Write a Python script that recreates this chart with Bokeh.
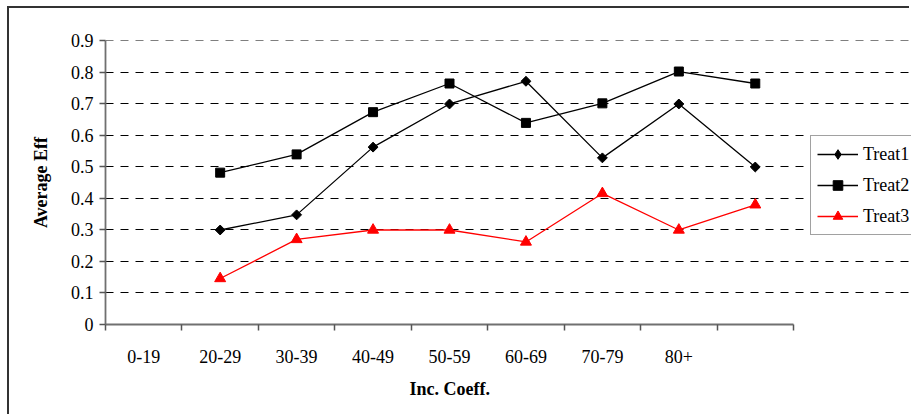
import numpy as np
from bokeh.plotting import figure
from bokeh.models import (Range1d, FixedTicker, Legend, LegendItem, Title)
from bokeh.embed import file_html
from bokeh.resources import INLINE

# Income-coefficient groups (the ninth slot carries no label)
categories = ["0-19", "20-29", "30-39", "40-49", "50-59", "60-69", "70-79", "80+", ""]

# Average efficiency per group; no value for the first group
treat1 = [np.nan, 0.30, 0.348, 0.563, 0.70, 0.772, 0.529, 0.70, 0.50]
treat2 = [np.nan, 0.482, 0.54, 0.674, 0.765, 0.64, 0.702, 0.803, 0.765]
treat3 = [np.nan, 0.146, 0.27, 0.30, 0.30, 0.262, 0.416, 0.30, 0.38]

y_ticks = [0.0, 0.1, 0.2, 0.3, 0.4, 0.5, 0.6, 0.7, 0.8, 0.9]
y_labels = ["0", "0.1", "0.2", "0.3", "0.4", "0.5", "0.6", "0.7", "0.8", "0.9"]

FONT = "Liberation Serif"
AXIS_COLOR = "#707070"

n = len(categories)
x = np.arange(n) + 0.5          # category centres
edges = list(range(n + 1))      # category boundaries

# The plotting frame runs on past the last category so the legend can sit
# to the right of the axes; axis and grid are bounded to the categories.
W, H = 902, 408
LEFT, TOP, BOTTOM = 96, 32, 92
AXIS_PX = 688                   # pixel length of the category axis
x_end = n * (W - LEFT) / AXIS_PX

p = figure(
    width=W, height=H,
    x_range=Range1d(0, x_end), y_range=Range1d(0, 0.9015),
    output_backend="svg", toolbar_location=None,
    min_border_left=LEFT, min_border_right=0,
    min_border_top=TOP, min_border_bottom=BOTTOM,
    background_fill_color="white", border_fill_color="white",
)
p.outline_line_color = None
p.margin = (6, 0, 0, 7)
p.styles = {"border-left": "2px solid #333333", "border-top": "2px solid #333333"}

# x axis: labels at category centres, tick marks at category boundaries
xa = p.xaxis[0]
xa.bounds = (0, n)
xa.ticker = FixedTicker(ticks=list(x), minor_ticks=edges)
xa.major_label_overrides = {float(v): lab for v, lab in zip(x, categories)}
xa.major_tick_out = 0
xa.major_tick_in = 0
xa.minor_tick_out = 6
xa.minor_tick_in = 0
xa.minor_tick_line_color = "#555555"
xa.minor_tick_line_width = 1.5
xa.axis_line_color = AXIS_COLOR
xa.axis_line_width = 1.8
xa.major_label_text_font = FONT
xa.major_label_text_font_size = "18px"
xa.major_label_text_color = "black"
xa.major_label_standoff = 19

ya = p.yaxis[0]
ya.ticker = FixedTicker(ticks=y_ticks, minor_ticks=[])
ya.major_label_overrides = {v: lab for v, lab in zip(y_ticks, y_labels)}
ya.major_tick_out = 6
ya.major_tick_in = 0
ya.major_tick_line_color = "#555555"
ya.major_tick_line_width = 1.5
ya.minor_tick_line_color = None
ya.axis_line_color = AXIS_COLOR
ya.axis_line_width = 1.8
ya.major_label_text_font = FONT
ya.major_label_text_font_size = "18px"
ya.major_label_text_color = "black"
ya.major_label_standoff = 6
ya.axis_label = "Average Eff"
ya.axis_label_text_font = FONT
ya.axis_label_text_font_size = "18px"
ya.axis_label_text_font_style = "bold"
ya.axis_label_text_color = "black"
ya.axis_label_standoff = 17

p.xgrid.grid_line_color = None
p.ygrid.ticker = FixedTicker(ticks=y_ticks[1:])
p.ygrid.bounds = (0, n)
p.ygrid.grid_line_color = "black"
p.ygrid.grid_line_width = 1
p.ygrid.grid_line_dash = "8 7"

l1 = p.line(x, treat1, line_color="black", line_width=1.3)
s1 = p.scatter(x, treat1, marker="square", angle=np.pi / 4, size=7,
               fill_color="black", line_color="black")
l2 = p.line(x, treat2, line_color="black", line_width=1.3)
s2 = p.scatter(x, treat2, marker="square", size=9,
               fill_color="black", line_color="black")
l3 = p.line(x, treat3, line_color="red", line_width=1.3)
s3 = p.scatter(x, treat3, marker="triangle", size=11,
               fill_color="red", line_color="red")

# legend swatch for the diamond series (draws no points of its own)
k1 = p.scatter([np.nan], [np.nan], marker="diamond", size=12,
               fill_color="black", line_color="black")

legend = Legend(
    items=[
        LegendItem(label="Treat1", renderers=[l1, k1]),
        LegendItem(label="Treat2", renderers=[l2, s2]),
        LegendItem(label="Treat3", renderers=[l3, s3]),
    ],
    location=(705, 89),
    orientation="vertical",
    label_text_font=FONT,
    label_text_font_size="18px",
    label_text_color="black",
    glyph_width=41, glyph_height=24, label_height=24,
    label_standoff=5, spacing=7, padding=6, margin=0,
    border_line_color="#444444", border_line_width=1.2,
    background_fill_color="white", background_fill_alpha=1,
)
p.add_layout(legend, "center")

# x-axis title, centred under the category axis (frame spans wider)
title_w = 80
x_title = Title(text="Inc. Coeff.", align="left", vertical_align="bottom",
                offset=AXIS_PX / 2 - title_w / 2,
                text_font=FONT, text_font_size="18px",
                text_font_style="bold", text_color="black", standoff=23)
p.add_layout(x_title, "below")

open("out.html", "w").write(file_html(p, INLINE))
